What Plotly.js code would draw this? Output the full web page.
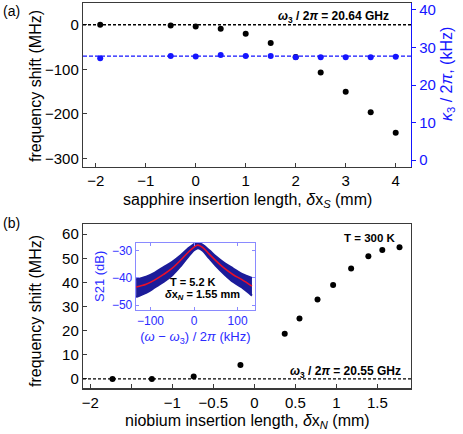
<!DOCTYPE html>
<html>
<head>
<meta charset="utf-8">
<script src="https://cdn.plot.ly/plotly-3.0.1.min.js"></script>
<style>
  html, body { margin: 0; padding: 0; background: #fff; }
  #chart { width: 463px; height: 434px; }
</style>
</head>
<body>
<div id="chart"></div>
<script>
// (a) sapphire insertion
var sapX = [-1.91, -0.5, 0, 0.5, 1, 1.5, 2, 2.5, 3, 3.5, 4];
var sapShift = [0, -1.5, -3.8, -9, -20, -41, -72, -107, -150, -196, -242];
var sapKappa = [27.1, 27.7, 27.6, 28.0, 27.7, 27.7, 27.4, 27.4, 27.4, 27.4, 27.5];
var kappaMean = 27.7;

// (b) niobium insertion
var nbX = [-1.73, -1.25, -0.74, -0.17, 0.37, 0.55, 0.77, 0.96, 1.18, 1.39, 1.56, 1.77];
var nbShift = [0, 0, 1.0, 5.8, 18.7, 25.0, 32.9, 38.9, 45.8, 50.9, 53.4, 54.6];

// inset: S21 transmission vs detuning (kHz)
var detune = [-133, -110, -90, -70, -50, -30, -15, 0, 9, 20, 35, 50, 70, 90, 110, 133];
var s21Upper = [-40.5, -39.5, -38, -36, -34, -31.5, -29.3, -27.5, -27, -27.8, -29.8, -32, -34.5, -36.5, -38.5, -40];
var s21Lower = [-47, -45.5, -43.5, -41.5, -39, -35.5, -32.5, -29.8, -29, -30, -32.8, -35.5, -38.7, -41.5, -43.5, -46.5];
var s21Fit = [-43.3, -42.3, -40.7, -38.7, -36.4, -33.3, -30.8, -28.6, -27.9, -28.8, -31.2, -33.6, -36.5, -38.8, -40.6, -43.0];

var sapTicks = [-2, -1, 0, 1, 2, 3, 4];
var nbTicks = [-2, -1.5, -1, -0.5, 0, 0.5, 1, 1.5];
var nbTickText = ['\u22122', '', '\u22121', '\u22120.5', '0', '0.5', '1', '1.5'];

var W = 463, H = 434;
var frame = '#3a3a3a';
var blue = '#1515ff';
var insetBlue = '#8a8aff';
var insetText = '#2b2bff';
var font = 'Liberation Sans, Arial, sans-serif';

function px(x) { return x / W; }
function py(y) { return 1 - y / H; }

var data = [
    {
        x: sapX, y: sapShift, type: 'scatter', mode: 'markers',
        marker: { color: '#000', size: 6 }, xaxis: 'x', yaxis: 'y'
    },
    {
        x: sapX, y: sapKappa, type: 'scatter', mode: 'markers',
        marker: { color: blue, size: 6 }, xaxis: 'x', yaxis: 'y2'
    },
    {
        x: nbX, y: nbShift, type: 'scatter', mode: 'markers',
        marker: { color: '#000', size: 6 }, xaxis: 'x2', yaxis: 'y3'
    },
    // measured band (upper / lower envelope)
    {
        x: detune, y: s21Upper, type: 'scatter', mode: 'lines',
        line: { color: '#1c1c9a', width: 2, shape: 'spline' },
        xaxis: 'x3', yaxis: 'y4'
    },
    {
        x: detune, y: s21Lower, type: 'scatter', mode: 'lines', fill: 'tonexty',
        fillcolor: '#1c1c9a',
        line: { color: '#1c1c9a', width: 2, shape: 'spline' },
        xaxis: 'x3', yaxis: 'y4'
    },
    {
        x: detune, y: s21Fit, type: 'scatter', mode: 'lines',
        line: { color: '#e8102a', width: 1.6, shape: 'spline' },
        xaxis: 'x3', yaxis: 'y4'
    }
];

var tickFont = { family: font, size: 15, color: '#000' };
var titleFont = { family: font, size: 16, color: '#000' };

var layout = {
    width: W, height: H,
    margin: { l: 0, r: 0, t: 0, b: 0 },
    paper_bgcolor: '#fff',
    plot_bgcolor: 'rgba(0,0,0,0)',
    showlegend: false,
    font: { family: font },
    xaxis: {
        domain: [px(83), px(411)], range: [-2.254, 4.306], anchor: 'y',
        tickvals: sapTicks, ticks: 'inside', ticklen: 4, tickcolor: frame,
        showline: true, linecolor: frame, linewidth: 1.2, mirror: true,
        showgrid: false, zeroline: false, tickfont: tickFont
    },
    yaxis: {
        domain: [py(167), py(3)], range: [-318.9, 48.8], anchor: 'x',
        tickvals: [-300, -200, -100, 0], ticks: 'inside', ticklen: 4, tickcolor: frame,
        showline: true, linecolor: frame, linewidth: 1.2,
        showgrid: false, zeroline: false, tickfont: tickFont
    },
    yaxis2: {
        overlaying: 'y', side: 'right', anchor: 'x', range: [-1.8, 41.8],
        tickvals: [0, 10, 20, 30, 40], ticks: 'outside', ticklen: 4, tickcolor: blue,
        showline: true, linecolor: blue, linewidth: 1.2,
        showgrid: false, zeroline: false,
        tickfont: { family: font, size: 15, color: blue }
    },
    xaxis2: {
        domain: [px(83), px(411)], range: [-2.09, 1.91], anchor: 'y3',
        tickvals: nbTicks, ticktext: nbTickText, ticks: 'inside', ticklen: 4, tickcolor: frame,
        showline: true, linecolor: frame, linewidth: 1.2, mirror: true,
        showgrid: false, zeroline: false, tickfont: tickFont
    },
    yaxis3: {
        domain: [py(388.3), py(224.3)], range: [-3.9, 64.1], anchor: 'x2',
        tickvals: [0, 10, 20, 30, 40, 50, 60], ticks: 'inside', ticklen: 4, tickcolor: frame,
        showline: true, linecolor: frame, linewidth: 1.2, mirror: true,
        showgrid: false, zeroline: false, tickfont: tickFont
    },
    xaxis3: {
        domain: [px(135.7), px(255)], range: [-134, 140], anchor: 'y4',
        tickvals: [-100, 0, 100], ticks: 'inside', ticklen: 3, tickcolor: insetBlue,
        showline: true, linecolor: insetBlue, linewidth: 1, mirror: 'ticks',
        showgrid: false, zeroline: false,
        tickfont: { family: font, size: 12, color: insetText },
        title: { text: '(<i>ω</i> − <i>ω</i><sub>3</sub>) / 2<i>π</i> (kHz)', font: { family: font, size: 13, color: insetText }, standoff: 4 }
    },
    yaxis4: {
        domain: [py(310), py(242.7)], range: [-51.8, -27], anchor: 'x3',
        tickvals: [-50, -40, -30], ticks: 'inside', ticklen: 3, tickcolor: insetBlue,
        showline: true, linecolor: insetBlue, linewidth: 1, mirror: 'ticks',
        showgrid: false, zeroline: false,
        tickfont: { family: font, size: 12, color: insetText },
        title: { text: 'S21 (dB)', font: { family: font, size: 13, color: insetText }, standoff: 4 }
    },
    shapes: [
        {
            type: 'line', xref: 'x domain', yref: 'y', x0: 0, x1: 1, y0: 0, y1: 0,
            line: { color: '#000', width: 1.3, dash: '3px,2px' }
        },
        {
            type: 'line', xref: 'x domain', yref: 'y2', x0: 0, x1: 1, y0: kappaMean, y1: kappaMean,
            line: { color: blue, width: 1.3, dash: '4px,2px' }
        },
        {
            type: 'line', xref: 'x2 domain', yref: 'y3', x0: 0, x1: 1, y0: 0, y1: 0,
            line: { color: '#000', width: 1.3, dash: '3px,2px' }
        }
    ],
    annotations: [
        // axis titles
        { text: 'sapphire insertion length, <i>δ</i>x<sub><i>S</i></sub> (mm)', xref: 'x domain', yref: 'paper',
          x: 0.5, y: py(201), xanchor: 'center', yanchor: 'middle',
          showarrow: false, font: titleFont },
        { text: 'frequency shift (MHz)', xref: 'paper', yref: 'paper', textangle: -90,
          x: px(35), y: py(86), xanchor: 'center', yanchor: 'middle',
          showarrow: false, font: titleFont },
        { text: '<i>κ</i><sub>3</sub> / 2<i>π</i>, (kHz)', xref: 'paper', yref: 'paper', textangle: -90,
          x: px(447), y: py(74), xanchor: 'center', yanchor: 'middle',
          showarrow: false, font: { family: font, size: 16, color: blue } },
        { text: 'niobium insertion length, <i>δ</i>x<sub><i>N</i></sub> (mm)', xref: 'x2 domain', yref: 'paper',
          x: 0.5, y: py(421), xanchor: 'center', yanchor: 'middle',
          showarrow: false, font: titleFont },
        { text: 'frequency shift (MHz)', xref: 'paper', yref: 'paper', textangle: -90,
          x: px(35), y: py(311), xanchor: 'center', yanchor: 'middle',
          showarrow: false, font: titleFont },
        // panel labels
        { text: '(a)', xref: 'paper', yref: 'paper', x: px(1), y: py(1), xanchor: 'left', yanchor: 'top',
          showarrow: false, font: { family: font, size: 14, color: '#000' } },
        { text: '(b)', xref: 'paper', yref: 'paper', x: px(1), y: py(213), xanchor: 'left', yanchor: 'top',
          showarrow: false, font: { family: font, size: 14, color: '#000' } },
        // in-plot labels
        { text: '<b><i>ω</i><sub>3</sub> / 2<i>π</i> = 20.64 GHz</b>', xref: 'x domain', yref: 'paper',
          x: 0.94, y: py(17), xanchor: 'right', yanchor: 'middle',
          showarrow: false, font: { family: font, size: 12, color: '#000' } },
        { text: '<b><i>ω</i><sub>3</sub> / 2<i>π</i> = 20.55 GHz</b>', xref: 'x2 domain', yref: 'paper',
          x: 0.975, y: py(372), xanchor: 'right', yanchor: 'middle',
          showarrow: false, font: { family: font, size: 12, color: '#000' } },
        { text: '<b>T = 300 K</b>', xref: 'x2 domain', yref: 'paper',
          x: 0.96, y: py(238), xanchor: 'right', yanchor: 'middle',
          showarrow: false, font: { family: font, size: 11.5, color: '#000' } },
        { text: '<b>T = 5.2 K</b>', xref: 'x3', yref: 'y4',
          x: -3, y: -41.4, xanchor: 'center', yanchor: 'middle',
          showarrow: false, font: { family: font, size: 11, color: '#000' } },
        { text: '<b><i>δ</i>x<sub><i>N</i></sub> = 1.55 mm</b>', xref: 'x3', yref: 'y4',
          x: 20, y: -46.1, xanchor: 'center', yanchor: 'middle',
          showarrow: false, font: { family: font, size: 11, color: '#000' } }
    ]
};

Plotly.newPlot('chart', data, layout, { displayModeBar: false, staticPlot: true });
</script>
</body>
</html>
